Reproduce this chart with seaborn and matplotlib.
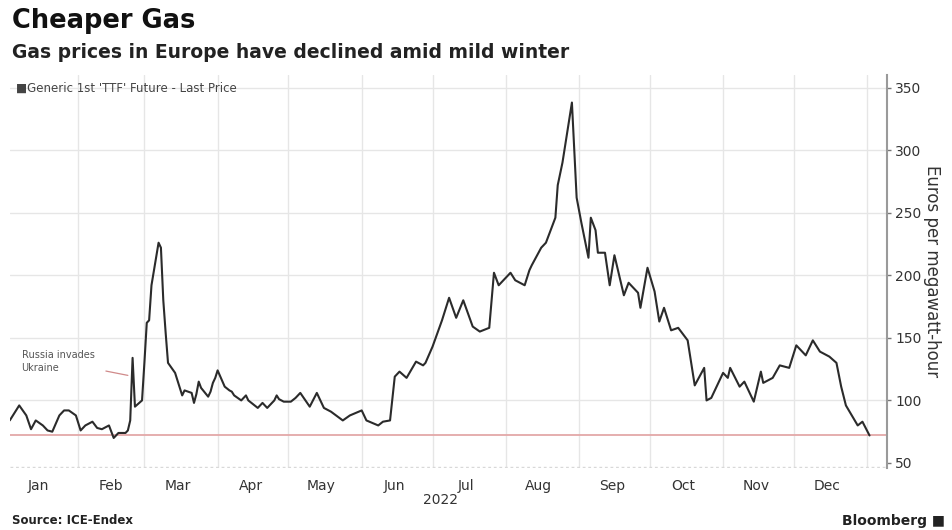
import matplotlib
matplotlib.use("Agg")
import matplotlib.pyplot as plt
import seaborn as sns
import pandas as pd

dates = [
    "2022-01-03", "2022-01-05", "2022-01-07", "2022-01-10", "2022-01-12", "2022-01-14",
    "2022-01-17", "2022-01-19", "2022-01-21", "2022-01-24", "2022-01-26", "2022-01-28",
    "2022-01-31", "2022-02-02", "2022-02-04", "2022-02-07", "2022-02-09", "2022-02-11",
    "2022-02-14", "2022-02-16", "2022-02-18", "2022-02-21", "2022-02-22", "2022-02-23",
    "2022-02-24", "2022-02-25", "2022-02-28", "2022-03-01", "2022-03-02", "2022-03-03",
    "2022-03-04", "2022-03-07", "2022-03-08", "2022-03-09", "2022-03-10", "2022-03-11",
    "2022-03-14", "2022-03-15", "2022-03-16", "2022-03-17", "2022-03-18", "2022-03-21",
    "2022-03-22", "2022-03-23", "2022-03-24", "2022-03-25", "2022-03-28", "2022-03-29",
    "2022-03-30", "2022-03-31", "2022-04-01", "2022-04-04", "2022-04-06", "2022-04-07",
    "2022-04-08", "2022-04-11", "2022-04-13", "2022-04-14", "2022-04-18", "2022-04-20",
    "2022-04-22", "2022-04-25", "2022-04-26", "2022-04-27", "2022-04-29", "2022-05-02",
    "2022-05-04", "2022-05-06", "2022-05-10", "2022-05-13", "2022-05-16", "2022-05-19",
    "2022-05-24", "2022-05-27", "2022-06-01", "2022-06-03", "2022-06-08", "2022-06-10",
    "2022-06-13", "2022-06-15", "2022-06-17", "2022-06-20", "2022-06-24", "2022-06-27",
    "2022-06-28", "2022-07-01", "2022-07-05", "2022-07-08", "2022-07-11", "2022-07-14",
    "2022-07-18", "2022-07-21", "2022-07-25", "2022-07-27", "2022-07-29", "2022-08-03",
    "2022-08-05", "2022-08-09", "2022-08-11", "2022-08-12", "2022-08-16", "2022-08-18",
    "2022-08-22", "2022-08-23", "2022-08-25", "2022-08-29", "2022-08-31", "2022-09-02",
    "2022-09-05", "2022-09-06", "2022-09-08", "2022-09-09", "2022-09-12", "2022-09-14",
    "2022-09-16", "2022-09-20", "2022-09-22", "2022-09-26", "2022-09-27", "2022-09-30",
    "2022-10-03", "2022-10-05", "2022-10-07", "2022-10-10", "2022-10-13", "2022-10-17",
    "2022-10-20", "2022-10-24", "2022-10-25", "2022-10-27", "2022-11-01", "2022-11-03",
    "2022-11-04", "2022-11-08", "2022-11-10", "2022-11-14", "2022-11-17", "2022-11-18",
    "2022-11-22", "2022-11-25", "2022-11-29", "2022-12-02", "2022-12-06", "2022-12-09",
    "2022-12-12", "2022-12-16", "2022-12-19", "2022-12-21", "2022-12-23", "2022-12-28",
    "2022-12-30", "2023-01-02",
]
prices = [
    84, 90, 96, 88, 77, 84,
    80, 76, 75, 88, 92, 92,
    88, 76, 80, 83, 78, 77,
    80, 70, 74, 74, 76, 84,
    134, 95, 100, 130, 162, 164,
    192, 226, 222, 180, 154, 130,
    122, 116, 110, 104, 108, 106,
    98, 105, 115, 110, 103, 107,
    114, 118, 124, 111, 108, 107,
    104, 100, 104, 100, 94, 98,
    94, 100, 104, 101, 99, 99,
    102, 106, 95, 106, 94, 91,
    84, 88, 92, 84, 80, 83,
    84, 119, 123, 118, 131, 128,
    130, 143, 164, 182, 166, 180,
    159, 155, 158, 202, 192, 202,
    196, 192, 204, 208, 222, 226,
    246, 272, 290, 338, 262, 242,
    214, 246, 236, 218, 218, 192,
    216, 184, 194, 186, 174, 206,
    187, 163, 174, 156, 158, 148,
    112, 126, 100, 102, 122, 118,
    126, 111, 115, 99, 123, 114,
    118, 128, 126, 144, 136, 148,
    139, 135, 130, 111, 96, 80,
    83, 72,
]
month_labels = ["Jan", "Feb", "Mar", "Apr", "May", "Jun",
                "Jul", "Aug", "Sep", "Oct", "Nov", "Dec"]
y_ticks = [50, 100, 150, 200, 250, 300, 350]
last_price = 72.3

df = pd.DataFrame({"date": pd.to_datetime(dates), "price": prices})

sns.set_theme(style="white")
plt.rcParams["font.family"] = ["DejaVu Sans"]

fig = plt.figure(figsize=(9.53, 5.30), dpi=100)
W, H = 953, 530
ax = fig.add_axes([10 / W, 1 - 468 / H, (887 - 10) / W, (468 - 75) / H])

# grid
month_starts = pd.date_range("2022-02-01", "2023-01-01", freq="MS")
for m in month_starts:
    ax.axvline(m, color="#e6e6e6", lw=1.0, zorder=0)
for t in y_ticks[1:]:
    ax.axhline(t, color="#e6e6e6", lw=1.0, zorder=0)

ax.axhline(last_price, color="#e3a8a8", lw=1.3, zorder=1)

sns.lineplot(data=df, x="date", y="price", ax=ax, color="#2b2b2b", lw=1.5, zorder=3)

t0 = pd.Timestamp("2022-01-01")
ax.set_xlim(t0 + pd.Timedelta(days=2.1), t0 + pd.Timedelta(days=373.4))
ax.set_ylim(46, 360)

# axes styling
for s in ["top", "left", "bottom"]:
    ax.spines[s].set_visible(False)
ax.spines["right"].set_color("#9a9a9a")
ax.spines["right"].set_linewidth(1.5)
ax.axhline(46.5, color="#d8d8d8", lw=1.0, ls=(0, (2, 2)), zorder=1)

ax.yaxis.tick_right()
ax.yaxis.set_label_position("right")
ax.set_yticks(y_ticks)
ax.set_yticklabels([str(v) for v in y_ticks], fontsize=10, color="#333333")
ax.tick_params(axis="y", direction="out", length=3, width=1, color="#777777", pad=3)
ax.set_ylabel("Euros per megawatt-hour", rotation=-90, labelpad=14, fontsize=12,
              color="#333333")

mid_months = pd.date_range("2022-01-01", periods=12, freq="MS") + pd.Timedelta(days=14)
ax.set_xticks(mid_months)
ax.set_xticklabels(month_labels, fontsize=10, color="#333333")
ax.tick_params(axis="x", length=0, pad=8)
ax.set_xlabel("")
fig.text(441 / W, 1 - 500 / H, "2022", fontsize=10, color="#333333", ha="center", va="center")

# annotation
ax.annotate("Russia invades\nUkraine", xy=(pd.Timestamp("2022-02-22"), 120),
            xytext=(t0 + pd.Timedelta(days=7), 131), fontsize=7, color="#555555",
            ha="left", va="center", linespacing=1.3,
            arrowprops=dict(arrowstyle="-", color="#d08a8a", lw=0.9,
                            shrinkA=6, shrinkB=0))

# titles
fig.text(12 / W, 1 - 21 / H, "Cheaper Gas", fontsize=18.5, fontweight="bold",
         color="#111111", ha="left", va="center")
fig.text(12 / W, 1 - 52 / H, "Gas prices in Europe have declined amid mild winter",
         fontsize=13.5, fontweight="bold", color="#222222", ha="left", va="center")
fig.text(16 / W, 1 - 88 / H, "\u25a0Generic 1st 'TTF' Future - Last Price",
         fontsize=8.5, color="#444444", ha="left", va="center")
fig.text(12 / W, 1 - 521 / H, "Source: ICE-Endex", fontsize=8.5, fontweight="bold",
         color="#222222", ha="left", va="center")
fig.text(945 / W, 1 - 521 / H, "Bloomberg \u25a0", fontsize=10, fontweight="bold",
         color="#222222", ha="right", va="center")

fig.savefig("out.png", dpi=100, facecolor="white")
